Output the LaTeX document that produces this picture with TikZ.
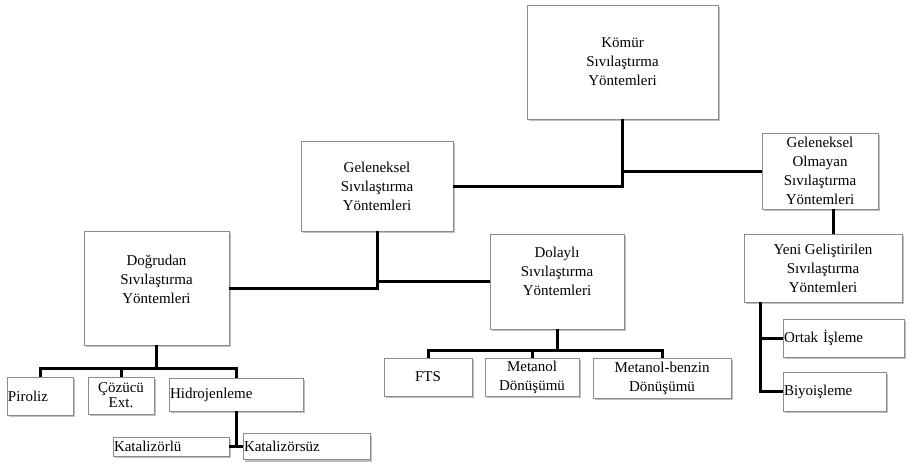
\documentclass[tikz,border=0pt]{standalone}
\usepackage{fontspec}
\setmainfont{Liberation Serif}
\usetikzlibrary{shadows}
\begin{document}
\begin{tikzpicture}[x=1pt,y=-1pt,
  box/.style={draw=black!45, line width=0.7pt, fill=white, inner sep=0pt,
    align=center, font=\fontsize{15}{19}\selectfont,
    drop shadow={shadow xshift=1.5pt, shadow yshift=-2pt, fill=black, opacity=0.25}},
  leftbox/.style={box, align=left, inner xsep=1pt},
  link/.style={line width=3pt}]
\fill[white] (0,0) rectangle (916,464);
\useasboundingbox (0,0) rectangle (916,464);

% top level
\node[box, minimum width=191pt, minimum height=114pt] (komur) at (622.5,62)
  {Kömür\\Sıvılaştırma\\Yöntemleri};

% second level
\node[box, minimum width=152pt, minimum height=90pt] (gel) at (377,186)
  {Geleneksel\\Sıvılaştırma\\Yöntemleri};
\node[box, minimum width=116pt, minimum height=76pt] (go) at (820,171)
  {Geleneksel\\Olmayan\\Sıvılaştırma\\Yöntemleri};

% third level (text sits a little above the middle)
\node[box, minimum width=145pt, minimum height=114pt, text depth=18pt] (dog) at (156.5,288)
  {Doğrudan\\Sıvılaştırma\\Yöntemleri};
\node[box, minimum width=134pt, minimum height=95pt, text depth=21pt] (dol) at (557,281.5)
  {Dolaylı\\Sıvılaştırma\\Yöntemleri};
\node[box, minimum width=158pt, minimum height=68pt] (yeni) at (823,268)
  {Yeni Geliştirilen\\Sıvılaştırma\\Yöntemleri};

% direct methods
\node[leftbox, minimum width=66pt, text width=64pt, minimum height=38pt] (piro) at (40,396) {Piroliz};
\node[box, minimum width=66pt, minimum height=37pt, font=\fontsize{15}{15}\selectfont] (coz) at (121,395.5) {Çözücü\\Ext.};
\node[leftbox, minimum width=134pt, text width=132pt, minimum height=33pt] (hidro) at (236,394.5) {Hidrojenleme};
\node[leftbox, minimum width=116pt, text width=114pt, minimum height=19pt] (katl) at (171,446.5) {Katalizörlü};
\node[leftbox, minimum width=127pt, text width=125pt, minimum height=26pt] (kats) at (306.5,446.5) {Katalizörsüz};

% indirect methods
\node[box, minimum width=88pt, minimum height=38pt] (fts) at (428,377) {FTS};
\node[box, minimum width=94pt, minimum height=38pt] (met) at (532,377) {Metanol\\Dönüşümü};
\node[box, minimum width=138pt, minimum height=40pt] (metb) at (662,378) {Metanol-benzin\\Dönüşümü};

% newly developed methods
\node[leftbox, minimum width=121pt, text width=119pt, minimum height=38pt] (ortak) at (843.5,338) {Ortak İşleme};
\node[leftbox, minimum width=103pt, text width=101pt, minimum height=39pt] (biyo) at (834.5,391.5) {Biyoişleme};

% connectors
\draw[link] (komur.south) |- (gel.east);
\draw[link] (komur.south |- go.west) -- (go.west);
\draw[link] (gel.south) |- (dog.east);
\draw[link] (gel.south |- dol.west) -- (dol.west);

\coordinate (dbus) at (156.5,368);
\draw[link] (dog.south) -- (dbus);
\draw[link] (piro.north) |- (dbus) -| (hidro.north);
\draw[link] (coz.north) -- (coz.north |- dbus);
\draw[link] (hidro.south) -- (hidro.south |- katl.east);
\draw[link] (katl.east) -- (kats.west);

\coordinate (fbus) at (557,350);
\draw[link] (dol.south) -- (fbus);
\draw[link] (fts.north) |- (fbus) -| (metb.north);
\draw[link] (met.north) -- (met.north |- fbus);

\draw[link] ([xshift=13pt]go.south) -- ([xshift=13pt]go.south |- yeni.north);
\coordinate (ytop) at ([xshift=-63pt]yeni.south);
\draw[link] (ytop) |- (biyo.west);
\draw[link] (ytop |- ortak.west) -- (ortak.west);
\end{tikzpicture}
\end{document}
